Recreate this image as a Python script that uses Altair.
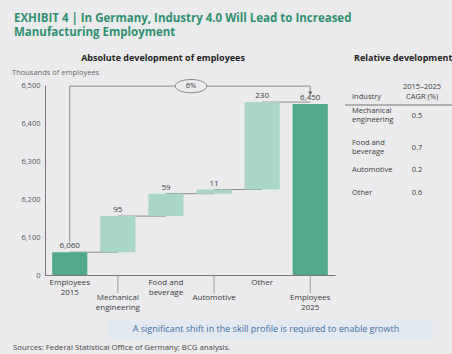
import altair as alt
import pandas as pd

# ---------------- data ----------------
categories = ["Employees 2015", "Mechanical engineering", "Food and beverage",
              "Automotive", "Other", "Employees 2025"]
values = [6060, 95, 59, 11, 230, 6450]
kinds = ["total", "delta", "delta", "delta", "delta", "total"]
label_lines = [["Employees", "2015"], ["Mechanical", "engineering"], ["Food and", "beverage"],
               ["Automotive"], ["Other"], ["Employees", "2025"]]
stagger = [0, 1, 0, 1, 0, 1]

table_industries = [["Mechanical", "engineering"], ["Food and", "beverage"], ["Automotive"], ["Other"]]
table_cagr = ["0.5", "0.7", "0.2", "0.6"]

y_ticks = [6000, 6100, 6200, 6300, 6400, 6500]

# ---------------- build table ----------------
rows = []
level = 0
for i, (c, v, k) in enumerate(zip(categories, values, kinds)):
    if k == "total":
        start, end = 6000, v
        level = v
        lab = f"{v:,}"
    else:
        start, end = level, level + v
        level = end
        lab = str(v)
    rows.append(dict(cat=c, start=start, end=end, kind=k, label=lab,
                     lines=label_lines[i], stagger=stagger[i],
                     next_cat=categories[i + 1] if i + 1 < len(categories) else c))
df = pd.DataFrame(rows)
conn = df.iloc[:-1].copy()

pct = round((values[-1] / values[0] - 1) * 100)
bracket_level = 6497
bracket = pd.DataFrame([dict(a=categories[0], b=categories[-1], y=bracket_level,
                             ybot=values[0] + 26, ytip=6478, txt=f"{pct}%")])

BG = "#ebebed"
DARK = "#52a78c"
LIGHT = "#a9d6c6"
GRAY = "#8a8a8a"
TXT = "#3a3a3a"
TEAL = "#2f8f70"
FONT = "Open Sans"

xs = alt.Scale(domain=categories, paddingInner=0.27, paddingOuter=0.15)
ys = alt.Scale(domain=[6000, 6500], nice=False, zero=False)

XAX = alt.Axis(labels=False, ticks=False, title=None, domain=True, domainColor="#777", domainWidth=1)
YAX = alt.Axis(values=y_ticks, ticks=False, grid=False, domain=True, domainColor="#777", domainWidth=1,
               labelOverlap=False, title=None,
               labelExpr="datum.value == 6000 ? '0' : format(datum.value, ',')",
               labelFontSize=7.5, labelColor="#555", labelPadding=5, labelFont=FONT)


def XC(field):
    return alt.X(field, scale=xs, sort=categories, axis=XAX, title=None)


def YQ(field):
    return alt.Y(field, scale=ys, axis=YAX, title=None)


base = alt.Chart(df)

bars = base.mark_bar().encode(
    x=XC("cat:N"), y=YQ("start:Q"), y2="end:Q",
    color=alt.Color("kind:N", scale=alt.Scale(domain=["total", "delta"], range=[DARK, LIGHT]),
                    legend=None),
)

connectors = alt.Chart(conn).mark_rule(color=GRAY, strokeWidth=1).encode(
    x=XC("cat:N"), x2="next_cat:N", y=YQ("end:Q"),
)

value_labels = base.mark_text(baseline="bottom", dy=-2, fontSize=8, color=TXT, font=FONT).encode(
    x=XC("cat:N"), y=YQ("end:Q"), text="label:N",
)

bchart = alt.Chart(bracket)
b_vert = bchart.mark_rule(color=GRAY, strokeWidth=1).encode(
    x=XC("a:N"), y=YQ("ybot:Q"), y2="y:Q")
b_horiz = bchart.mark_rule(color=GRAY, strokeWidth=1).encode(
    x=XC("a:N"), x2="b:N", y=YQ("y:Q"))
b_down = bchart.mark_rule(color=GRAY, strokeWidth=1).encode(
    x=XC("b:N"), y=YQ("y:Q"), y2="ytip:Q")
b_arrow = bchart.mark_point(shape="triangle-down", filled=True, size=18, color="#666", opacity=1).encode(
    x=XC("b:N"), y=YQ("ytip:Q"))
ellipse = bchart.mark_point(
    shape="M -1 0 A 1 0.42 0 1 0 1 0 A 1 0.42 0 1 0 -1 0 Z",
    size=1000, filled=False, stroke="#888", strokeWidth=1, fill=BG, fillOpacity=1, opacity=1
).encode(x=alt.value(146), y=YQ("y:Q"))
pct_text = bchart.mark_text(fontSize=7.5, color=TXT, font=FONT).encode(
    x=alt.value(146), y=YQ("y:Q"), text="txt:N")

upper_labels = base.transform_filter("datum.stagger == 0").mark_text(
    baseline="top", fontSize=8, color=TXT, font=FONT, lineHeight=10
).encode(x=XC("cat:N"), y=alt.value(194), text="lines")
lower_labels = base.transform_filter("datum.stagger == 1").mark_text(
    baseline="top", fontSize=8, color=TXT, font=FONT, lineHeight=10
).encode(x=XC("cat:N"), y=alt.value(209), text="lines")
leaders = base.transform_filter("datum.stagger == 1").mark_rule(color="#999", strokeWidth=1).encode(
    x=XC("cat:N"), y=alt.value(190), y2=alt.value(208))


def txt(s, x, y, size=8, color=TXT, weight="normal", align="left", baseline="middle"):
    return alt.Chart(pd.DataFrame({"t": [s]})).mark_text(
        align=align, baseline=baseline, fontSize=size, color=color, fontWeight=weight, font=FONT
    ).encode(x=alt.value(x), y=alt.value(y), text="t:N")


annotations = [
    txt("EXHIBIT 4 | In Germany, Industry 4.0 Will Lead to Increased", -31, -66, 11.5, TEAL, "bold"),
    txt("Manufacturing Employment", -31, -52, 11.5, TEAL, "bold"),
    txt("Absolute development of employees", 118, -27, 9, "#222", "bold", "center"),
    txt("Relative development", 309, -27, 9, "#222", "bold"),
    txt("Thousands of employees", -33, -12, 7.5, "#666"),
    txt("Industry", 307, 12, 7.5),
    txt("2015–2025", 358, 2, 7.5),
    txt("CAGR (%)", 361, 12, 7.5),
    txt("A significant shift in the skill profile is required to enable growth", 221, 244, 9,
        "#3d6ea8", align="center"),
    txt("Sources: Federal Statistical Office of Germany; BCG analysis.", -32, 263, 7.8, "#444"),
]

table_rows_y = [31, 63, 85, 108]
for ind, val, yy in zip(table_industries, table_cagr, table_rows_y):
    if len(ind) == 2:
        annotations.append(txt(ind[0], 307, yy - 5, 7.5))
        annotations.append(txt(ind[1], 307, yy + 4, 7.5))
    else:
        annotations.append(txt(ind[0], 307, yy, 7.5))
    annotations.append(txt(val, 372, yy, 7.5, align="center"))

note_bg = alt.Chart(pd.DataFrame({"t": [0]})).mark_rect(color="#e3e9f0").encode(
    x=alt.value(62), x2=alt.value(388), y=alt.value(235), y2=alt.value(254))
table_line = alt.Chart(pd.DataFrame({"t": [0]})).mark_rule(color="#777", strokeWidth=1).encode(
    x=alt.value(300), x2=alt.value(420), y=alt.value(20))

chart = alt.layer(
    note_bg, connectors, bars, value_labels, b_vert, b_horiz, b_down, b_arrow, ellipse, pct_text,
    leaders, upper_labels, lower_labels, table_line, *annotations
).properties(
    width=290, height=190,
    autosize=alt.AutoSizeParams(type="none"),
    padding={"left": 45, "top": 85, "right": 117, "bottom": 79},
    background=BG,
).configure_view(stroke=None).configure_axisY(labelOverlap=False)

chart.save("out.html", embed_options={"renderer": "svg", "actions": False})
